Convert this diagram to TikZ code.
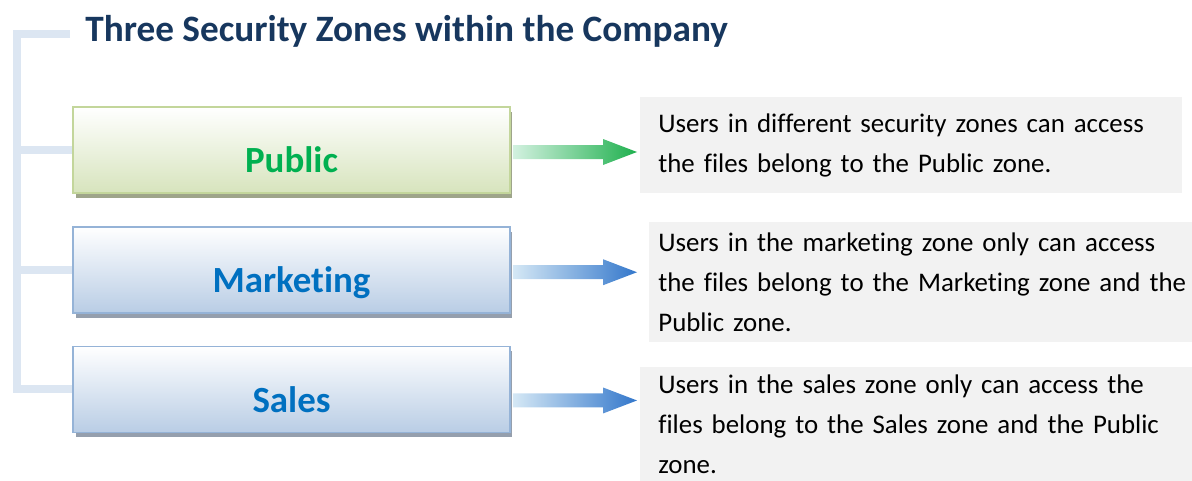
\documentclass[tikz,border=0pt]{standalone}
\usepackage{fontspec}
\setmainfont{Carlito}[Ligatures=NoCommon]
\usetikzlibrary{positioning,calc,shadows}
\definecolor{titleblue}{HTML}{17375E}
\definecolor{spinecol}{HTML}{DCE6F2}
\definecolor{pubgreen}{HTML}{00B050}
\definecolor{pubfill}{HTML}{D7E4BD}
\definecolor{publine}{HTML}{C3D69B}
\definecolor{pubshadow}{HTML}{9EA58A}
\definecolor{zoneblue}{HTML}{0070C0}
\definecolor{bluefill}{HTML}{B9CDE5}
\definecolor{blueline}{HTML}{95B3D7}
\definecolor{blueshadow}{HTML}{959FAD}
\definecolor{notegray}{HTML}{F2F2F2}
\definecolor{greenpale}{HTML}{D3F1E0}
\definecolor{greenarrow}{HTML}{1FB04E}
\definecolor{bluepale}{HTML}{D5E8F5}
\definecolor{bluearrow}{HTML}{3377CB}
\tikzset{
  zone/.style={minimum width=8.74cm, minimum height=1.72cm, line width=1pt,
    top color=white, text height=26pt, text depth=0pt,
    font=\fontsize{21}{25}\selectfont\bfseries},
  greenzone/.style={zone, draw=publine, bottom color=pubfill, text=pubgreen,
    drop shadow={shadow xshift=0.05cm, shadow yshift=-0.1cm, opacity=1, fill=pubshadow}},
  bluezone/.style={zone, draw=blueline, bottom color=bluefill, text=zoneblue,
    drop shadow={shadow xshift=0.05cm, shadow yshift=-0.1cm, opacity=1, fill=blueshadow}},
  note/.style={fill=notegray, anchor=north west, align=left, inner ysep=0pt,
    font=\fontsize{15.3}{22.8}\selectfont},
  spineline/.style={spinecol, line width=0.16cm, line join=miter},
}

\begin{document}
\begin{tikzpicture}[x=0.02cm, y=-0.02cm]
\useasboundingbox (0,0) rectangle (1192,480);
% title
\node[anchor=west, inner sep=0pt, text=titleblue, font=\fontsize{21.2}{25}\selectfont\bfseries] (title) at (85,31) {Three Security Zones within the Company};
% the three zones
\node[greenzone] (public) at (291.5,150) {Public};
\node[bluezone, below=0.64cm of public] (marketing) {Marketing};
\node[bluezone, below=0.64cm of marketing] (sales) {Sales};
% the notes
\node[note, minimum width=10.84cm, minimum height=1.92cm, inner xsep=0.36cm, text width=10.12cm] (publicnote) at (640,97)
  {Users in different security zones can access\\the files belong to the Public zone.};
\node[note, minimum width=10.86cm, minimum height=2.4cm, inner xsep=0.18cm, text width=11cm] (marketingnote) at (649,222)
  {Users in the marketing zone only can access\\the files belong to the Marketing zone and the\\Public zone.};
\node[note, minimum width=11.04cm, minimum height=2.28cm, inner xsep=0.36cm, text width=10.32cm] (salesnote) at (640,367)
  {Users in the sales zone only can access the\\files belong to the Sales zone and the Public\\zone.};
% the bracket
\coordinate (spinetop) at (70,34);
\coordinate (spinex) at (17,34);
\draw[spineline] (spinetop) -- (spinex) -- (spinex |- sales.west) -- (sales.west);
\foreach \z in {public,marketing}
  \draw[spineline] (spinex |- \z.west) -- (\z.west);
% arrows
\coordinate (tipx) at (637,0);
\foreach \z/\dy/\pale/\deep in {public/2/greenpale/greenarrow, marketing/2.5/bluepale/bluearrow, sales/11/bluepale/bluearrow}{
  \path ($(\z.east)+(2,\dy)$) coordinate (s) (tipx |- s) coordinate (t);
  \shade[left color=\pale, right color=\deep] ($(s)+(0,-7)$) -- ($(t)+(-34,-7)$) -- ($(t)+(-34,-13)$) -- (t)
    -- ($(t)+(-34,13)$) -- ($(t)+(-34,7)$) -- ($(s)+(0,7)$) -- cycle;
}
\end{tikzpicture}
\end{document}
